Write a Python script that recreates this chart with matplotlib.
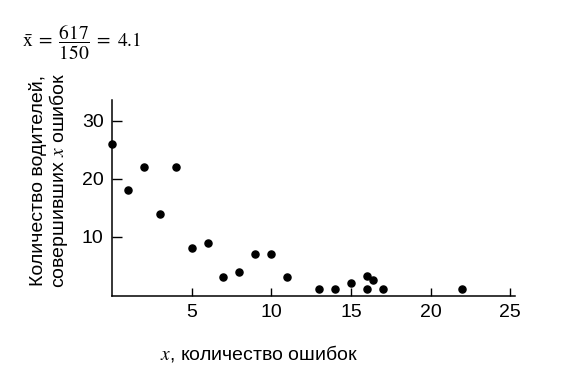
import matplotlib
matplotlib.use('Agg')
import matplotlib.pyplot as plt

# число ошибок x и количество водителей, совершивших x ошибок
errors = [0, 1, 2, 3, 4, 5, 6, 7, 8, 9, 10, 11, 13, 14, 15, 16, 16, 16.4, 17, 22]
drivers = [26, 18, 22, 14, 22, 8, 9, 3, 4, 7, 7, 3, 1, 1, 2, 1, 3.2, 2.5, 1, 1]

x_ticks = [5, 10, 15, 20, 25]
y_ticks = [10, 20, 30]

plt.rcParams['font.family'] = ['Liberation Sans', 'DejaVu Sans']
plt.rcParams['mathtext.fontset'] = 'stix'

fig = plt.figure(figsize=(5.82, 3.73), dpi=100)
ax = fig.add_axes([0.1924, 0.2064, 0.6924, 0.5255])

ax.scatter(errors, drivers, s=26, color='black', zorder=3, clip_on=False)

ax.set_xlim(0, 25.3)
ax.set_ylim(-0.2, 33.6)
ax.set_xticks(x_ticks)
ax.set_yticks(y_ticks)

for side in ['top', 'right']:
    ax.spines[side].set_visible(False)
for side in ['left', 'bottom']:
    ax.spines[side].set_linewidth(1.1)

ax.tick_params(axis='both', direction='in', width=1.0, labelsize=14, color='black')
ax.tick_params(axis='y', length=7, pad=6)
ax.tick_params(axis='x', length=6, pad=6)

ax.set_xlabel('$x$, количество ошибок', fontsize=14)
ax.xaxis.set_label_coords(0.365, -0.24)
ax.set_ylabel('Количество водителей,\nсовершивших $x$ ошибок', fontsize=14,
              linespacing=1.0)
ax.yaxis.set_label_coords(-0.103, 0.59)

fig.text(0.038, 0.887, r'$\bar{\mathrm{x}}\;=\;\dfrac{617}{150}\;=\;4.1$',
         fontsize=14, va='center')

fig.savefig('out.png', dpi=100)
